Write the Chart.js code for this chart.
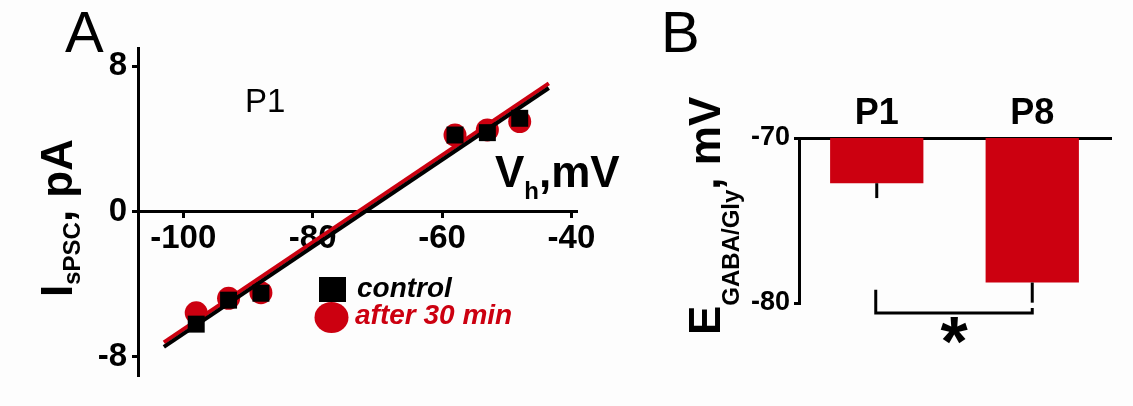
<!DOCTYPE html>
<html>
<head>
<meta charset="utf-8">
<script src="https://cdn.jsdelivr.net/npm/chart.js@4.4.1/dist/chart.umd.min.js"></script>
<style>
  body { margin: 0; background: #fdfdfd; }
  #wrap { position: relative; width: 1133px; height: 406px; }
  canvas { position: absolute; top: 0; }
  #ivChart { left: 0; }
  #eChart { left: 640px; }
</style>
</head>
<body>
<div id="wrap">
  <canvas id="ivChart" width="640" height="406"></canvas>
  <canvas id="eChart" width="493" height="406"></canvas>
</div>
<script>
// A: I-V relation of sPSCs at P1
const holdingV = [-98, -93, -88, -58, -53, -48];
const controlI = [-6.2, -4.88, -4.5, 4.21, 4.34, 5.13];
const after30I = [-5.58, -4.78, -4.47, 4.21, 4.49, 4.95];
const fitV = [-103, -43.5];
const controlFitI = [-7.45, 6.8];
const after30FitI = [-7.2, 7.05];
const ivTicksX = [-100, -80, -60, -40];
const ivTicksY = [-8, 0, 8];

// B: E GABA/Gly at P1 and P8
const ages = ['P1', 'P8'];
const eGabaGly = [-72.74, -78.76];
const eSem = [0.9, 1.22];
const eTicksY = [-80, -70];
const sigBracket = [-79.2, -80.6, -80.3]; // left top, bottom, right top

const RED = '#cc0010';
const FONT = "'Liberation Sans', Arial, sans-serif";

const pts = (xs, ys) => xs.map((x, i) => ({ x: x, y: ys[i] }));
const setTicks = vals => s => { s.ticks = vals.map(v => ({ value: v })); };

// text run with subscripts: [text, font, dy]
function drawRuns(ctx, runs, x, y) {
  runs.forEach(r => {
    ctx.font = r[1];
    ctx.fillText(r[0], x, y + r[2]);
    x += ctx.measureText(r[0]).width;
  });
}

const ivText = {
  id: 'ivText',
  afterDraw(chart) {
    const ctx = chart.ctx;
    const ds = chart.data.datasets;
    ctx.save();
    ctx.textAlign = 'left';
    ctx.textBaseline = 'alphabetic';
    ctx.fillStyle = '#000';
    ctx.font = '58px ' + FONT;
    ctx.fillText('A', 65, 52);
    ctx.font = '33px ' + FONT;
    ctx.fillText('P1', 245, 112);

    const big = 'bold 44px ' + FONT, small = 'bold 24px ' + FONT;
    drawRuns(ctx, [['V', big, 0], ['h', small, 12], [',mV', big, 0]], 495, 187);

    ctx.save();
    ctx.translate(72, 297);
    ctx.rotate(-Math.PI / 2);
    drawRuns(ctx, [['I', big, 0], ['sPSC', small, 8], [', pA', big, 0]], 0, 0);
    ctx.restore();

    // legend
    ctx.fillStyle = '#000';
    ctx.fillRect(319, 277, 27, 25);
    ctx.fillStyle = RED;
    ctx.beginPath();
    ctx.ellipse(331.5, 317.5, 17, 15.5, 0, 0, Math.PI * 2);
    ctx.fill();
    ctx.font = 'italic bold 28px ' + FONT;
    ctx.fillStyle = '#000';
    ctx.fillText(ds[0].label, 357, 297);
    ctx.fillStyle = RED;
    ctx.fillText(ds[3].label, 355, 324);
    ctx.restore();
  }
};

new Chart(document.getElementById('ivChart'), {
  type: 'scatter',
  data: {
    datasets: [
      { label: 'control', data: pts(holdingV, controlI), pointStyle: 'rect', pointRadius: 12,
        backgroundColor: '#000', borderWidth: 0 },
      { label: 'control fit', data: pts(fitV, controlFitI), showLine: true, pointRadius: 0,
        borderColor: '#000', borderWidth: 4 },
      { label: 'after 30 min fit', data: pts(fitV, after30FitI), showLine: true, pointRadius: 0,
        borderColor: RED, borderWidth: 4 },
      { label: 'after 30 min', data: pts(holdingV, after30I), pointStyle: 'circle', pointRadius: 11.5,
        backgroundColor: RED, borderWidth: 0 }
    ]
  },
  options: {
    responsive: false,
    animation: false,
    events: [],
    layout: { padding: { left: 0, top: 48, right: 64, bottom: 31 } },
    plugins: { legend: { display: false }, tooltip: { enabled: false } },
    scales: {
      x: {
        type: 'linear', min: -107, max: -39.3, position: { y: 0 },
        afterBuildTicks: setTicks(ivTicksX),
        grid: { drawOnChartArea: false, tickLength: 5, lineWidth: 3, color: '#000' },
        border: { color: '#000', width: 3 },
        ticks: { color: '#000', padding: 3, maxRotation: 0, font: { family: FONT, size: 33, weight: 'bold' } }
      },
      y: {
        type: 'linear', min: -9, max: 9,
        afterFit: s => { s.width = 138; },
        afterBuildTicks: setTicks(ivTicksY),
        grid: { drawOnChartArea: false, tickLength: 6, lineWidth: 3, color: '#000' },
        border: { color: '#000', width: 3 },
        ticks: { color: '#000', padding: 5, font: { family: FONT, size: 33, weight: 'bold' } }
      }
    }
  },
  plugins: [ivText]
});

const eExtras = {
  id: 'eExtras',
  afterDatasetsDraw(chart) {
    const ctx = chart.ctx, y = chart.scales.y;
    const bars = chart.getDatasetMeta(0).data;
    ctx.save();
    ctx.strokeStyle = '#000';
    ctx.lineWidth = 3;
    bars.forEach((b, i) => {
      ctx.beginPath();
      ctx.moveTo(b.x, b.y);
      ctx.lineTo(b.x, y.getPixelForValue(eGabaGly[i] - eSem[i]));
      ctx.stroke();
    });
    ctx.restore();
  },
  afterDraw(chart) {
    const ctx = chart.ctx, x = chart.scales.x, y = chart.scales.y;
    ctx.save();
    ctx.fillStyle = '#000';
    ctx.textAlign = 'left';
    ctx.textBaseline = 'alphabetic';
    ctx.font = '58px ' + FONT;
    ctx.fillText('B', 21, 52);

    // significance bracket
    const x0 = x.getPixelForValue(0) - 1, x1 = x.getPixelForValue(1);
    ctx.strokeStyle = '#000';
    ctx.lineWidth = 3;
    ctx.beginPath();
    ctx.moveTo(x0, y.getPixelForValue(sigBracket[0]));
    ctx.lineTo(x0, y.getPixelForValue(sigBracket[1]));
    ctx.lineTo(x1, y.getPixelForValue(sigBracket[1]));
    ctx.lineTo(x1, y.getPixelForValue(sigBracket[2]));
    ctx.stroke();
    ctx.font = 'bold 70px ' + FONT;
    ctx.textAlign = 'center';
    const m = ctx.measureText('*');
    const cy = 330;
    ctx.fillText('*', (x0 + x1) / 2, cy + (m.actualBoundingBoxAscent - m.actualBoundingBoxDescent) / 2);

    // y title
    ctx.textAlign = 'left';
    const big = 'bold 44px ' + FONT, small = 'bold 24px ' + FONT;
    ctx.translate(80, 335);
    ctx.rotate(-Math.PI / 2);
    drawRuns(ctx, [['E', big, 0], ['GABA/Gly', small, 19], [', mV', big, 0]], 0, 0);
    ctx.restore();
  }
};

new Chart(document.getElementById('eChart'), {
  type: 'bar',
  data: {
    labels: ages,
    datasets: [{ data: eGabaGly, backgroundColor: RED, barPercentage: 0.6, categoryPercentage: 1 }]
  },
  options: {
    responsive: false,
    animation: false,
    events: [],
    layout: { padding: { left: 0, top: 88, right: 23, bottom: 103 } },
    plugins: { legend: { display: false }, tooltip: { enabled: false } },
    scales: {
      x: {
        position: 'top', z: 1,
        afterFit: s => { s.height = 50; },
        grid: { drawOnChartArea: false, drawTicks: false, lineWidth: 3, color: '#000' },
        border: { color: '#000', width: 3 },
        ticks: { color: '#000', padding: 2, font: { family: FONT, size: 36, weight: 'bold' } }
      },
      y: {
        min: -80, max: -70,
        afterFit: s => { s.width = 159; },
        afterBuildTicks: setTicks(eTicksY),
        grid: { drawOnChartArea: false, tickLength: 5, lineWidth: 3, color: '#000' },
        border: { color: '#000', width: 3 },
        ticks: { color: '#000', padding: 4, font: { family: FONT, size: 27, weight: 'bold' } }
      }
    }
  },
  plugins: [eExtras]
});
</script>
</body>
</html>
